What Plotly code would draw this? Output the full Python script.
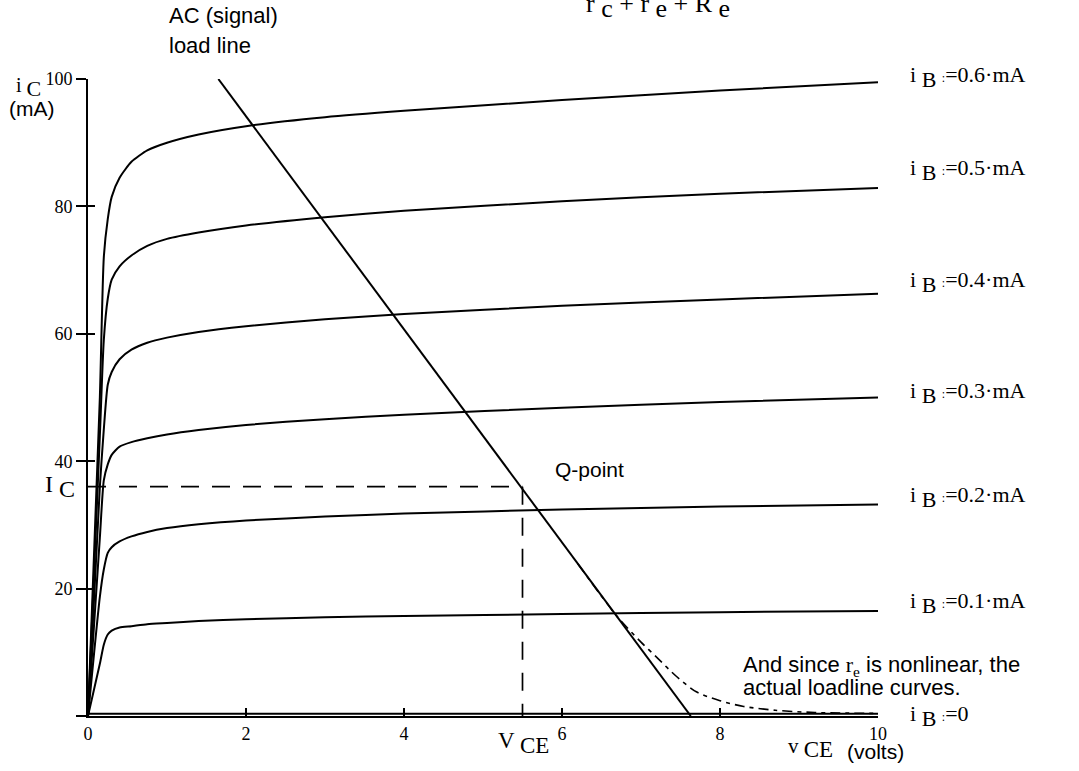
import plotly.graph_objects as go

# ---------------- data ----------------
vce_grid = [0, 0.15, 0.2, 0.25, 0.3, 0.4, 0.55, 0.75, 1.0, 1.4, 2, 3, 4, 6, 8, 10]
ic_ib06 = [0, 50, 72, 78, 81.5, 84.5, 87, 88.8, 90.0, 91.3, 92.6, 94.0, 95.0, 96.7, 98.2, 99.5]
ic_ib05 = [0, 44, 59, 65.5, 68.5, 70.6, 72.3, 73.8, 74.9, 75.9, 77.0, 78.3, 79.3, 80.8, 82.0, 82.9]
ic_ib04 = [0, 36, 45, 52, 54, 56, 57.5, 58.6, 59.4, 60.3, 61.2, 62.3, 63.1, 64.4, 65.4, 66.3]
ic_ib03 = [0, 28, 37, 39.5, 41, 42.3, 43.0, 43.6, 44.2, 44.9, 45.7, 46.6, 47.3, 48.4, 49.3, 50.0]
ic_ib02 = [0, 18.7, 23, 25.6, 26.5, 27.4, 28.2, 28.9, 29.5, 30.1, 30.7, 31.3, 31.8, 32.4, 32.9, 33.2]
ic_ib01 = [0, 8.2, 11.2, 12.8, 13.4, 13.9, 14.1, 14.4, 14.6, 14.9, 15.2, 15.5, 15.7, 16.0, 16.3, 16.5]
ib0_x = [0, 10]
ib0_y = [0.35, 0.35]
ib_labels = ["0.6", "0.5", "0.4", "0.3", "0.2", "0.1", "0"]

loadline_x = [1.65, 7.63]
loadline_y = [100, 0]

actual_x = [6.2, 6.7, 7.0, 7.2, 7.45, 7.7, 8.0, 8.3, 8.7, 9.2, 10]
actual_y = [23.9, 15.6, 11.6, 9.2, 6.2, 3.8, 2.4, 1.5, 0.9, 0.55, 0.4]

vce_q = 5.5
ic_q = 36

x_ticks = [0, 2, 4, 6, 8, 10]
y_ticks = [0, 20, 40, 60, 80, 100]
y_ticktext = ["", "20", "40", "60", "80", "100"]

# ---------------- layout helpers ----------------
L, R, T, B = 88, 201, 79, 54.5
W, H = 1079, 771
PW, PH = W - L - R, H - T - B

# vertical pixel centres of the i_B labels (layout)
ib_label_pix = [77, 170, 282, 393, 497, 603, 716]


def pxp(xp):
    return (xp - L) / PW


def pyp(yp):
    return (H - B - yp) / PH


SERIF = "Liberation Serif, Times New Roman, serif"
SANS = "Liberation Sans, Arial, sans-serif"
BLACK = "#000000"
LW = 2.0

fig = go.Figure()

curves = [ic_ib06, ic_ib05, ic_ib04, ic_ib03, ic_ib02, ic_ib01]
for ys in curves:
    fig.add_trace(go.Scatter(x=vce_grid, y=ys, mode="lines",
                             line=dict(color=BLACK, width=LW, shape="spline", smoothing=0.6),
                             hoverinfo="skip", showlegend=False))

fig.add_trace(go.Scatter(x=ib0_x, y=ib0_y, mode="lines",
                         line=dict(color=BLACK, width=LW), showlegend=False))

fig.add_trace(go.Scatter(x=loadline_x, y=loadline_y, mode="lines",
                         line=dict(color=BLACK, width=LW), showlegend=False))

fig.add_trace(go.Scatter(x=actual_x, y=actual_y, mode="lines",
                         line=dict(color=BLACK, width=1.6, dash="10px,5px,4px,5px",
                                   shape="spline", smoothing=0.8),
                         showlegend=False))

fig.add_trace(go.Scatter(x=[0, vce_q], y=[ic_q, ic_q], mode="lines",
                         line=dict(color=BLACK, width=1.7, dash="18px,13px"), showlegend=False))
fig.add_trace(go.Scatter(x=[vce_q, vce_q], y=[ic_q, 0], mode="lines",
                         line=dict(color=BLACK, width=1.7, dash="18px,13px"), showlegend=False))

# dummy trace for second (inside-tick) y axis
fig.add_trace(go.Scatter(x=[None], y=[None], yaxis="y2", showlegend=False))

annotations = []


def txt(xp, yp, text, fam, size, xanchor="left", yanchor="middle"):
    annotations.append(dict(x=pxp(xp), y=pyp(yp), xref="paper", yref="paper",
                            xanchor=xanchor, yanchor=yanchor, text=text, showarrow=False,
                            font=dict(family=fam, size=size, color=BLACK)))


def sub(s, size):
    return f"<sub><span style='font-size:{size}px'>{s}</span></sub>"


# i_B labels beside the curve ends
for yp, lab in zip(ib_label_pix, ib_labels):
    unit = "·mA" if lab != "0" else ""
    txt(908, yp, f"i {sub('B', 22)} <span style='font-size:12px'>:</span>=" + lab + unit,
        SERIF, 22)

txt(167, 15, "AC (signal)", SANS, 22)
txt(167, 45, "load line", SANS, 22)
txt(28, 88, "i " + sub("C", 22), SERIF, 20, xanchor="center")
txt(32, 109, "(mA)", SANS, 21, xanchor="center")
txt(60, 487, "I " + sub("C", 24), SERIF, 24, xanchor="center")
txt(553, 470, "Q-point", SANS, 21)
txt(523, 744, "V " + sub("CE", 23), SERIF, 23, xanchor="center")
txt(810, 749, "v " + sub("CE", 23), SERIF, 21, xanchor="center")
txt(845, 752, "(volts)", SANS, 21)
txt(741, 666, "And since <span style='font-family:Liberation Serif'>r<sub>e</sub></span> is nonlinear, the",
    SANS, 22)
txt(741, 688, "actual loadline curves.", SANS, 22)
txt(658, 25, "r " + sub("c", 26) + " + r " + sub("e", 26) + " + R " + sub("e", 26), SERIF, 26,
    xanchor="center", yanchor="bottom")

fig.update_layout(
    width=W, height=H,
    margin=dict(l=L, r=R, t=T, b=B),
    paper_bgcolor="white", plot_bgcolor="white",
    showlegend=False,
    xaxis=dict(range=[0, 10], tickvals=x_ticks, ticks="inside", ticklen=8, tickwidth=1.6,
               tickcolor=BLACK, showline=True, linecolor=BLACK, linewidth=LW,
               showgrid=False, zeroline=False, automargin=False,
               tickfont=dict(family=SERIF, size=18, color=BLACK)),
    yaxis=dict(range=[0, 100], tickvals=y_ticks, ticktext=y_ticktext, ticks="outside", ticklen=10,
               tickwidth=1.6, tickcolor=BLACK, showline=True, linecolor=BLACK, linewidth=LW,
               showgrid=False, zeroline=False, automargin=False,
               tickfont=dict(family=SERIF, size=18, color=BLACK)),
    yaxis2=dict(range=[0, 100], overlaying="y", side="left", tickvals=y_ticks, ticks="inside",
                ticklen=7, tickwidth=1.6, tickcolor=BLACK, showticklabels=False,
                showline=False, showgrid=False, zeroline=False, automargin=False),
    annotations=annotations,
)

fig.write_html("out.html", config={"displayModeBar": False},
               post_script="document.body.style.margin='0px';document.body.style.overflow='hidden';")
